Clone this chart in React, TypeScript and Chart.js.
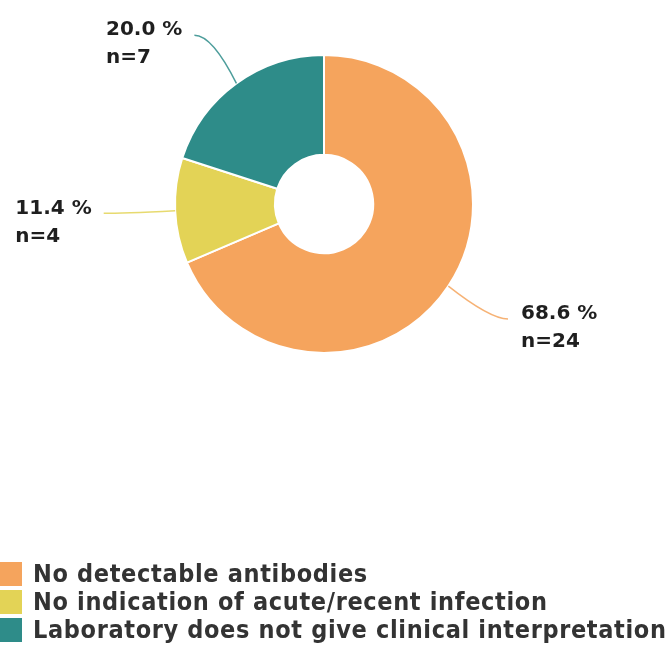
import React, { useEffect, useRef } from "react";
import { Chart, registerables } from "chart.js";

Chart.register(...registerables);

const categories = [
  "No detectable antibodies",
  "No indication of acute/recent infection",
  "Laboratory does not give clinical interpretation",
];
const counts = [24, 4, 7];
const percentLabels = ["68.6 %", "11.4 %", "20.0 %"];
const colors = ["#F5A45D", "#E3D356", "#2E8C89"];

const FONT = "'DejaVu Sans', sans-serif";
const LEGEND_FONT = "'DejaVu Sans Condensed', 'DejaVu Sans', sans-serif";

const labelPlugin = {
  id: "leaderLabels",
  afterDatasetsDraw(chart: any) {
    const ctx = chart.ctx;
    const meta = chart.getDatasetMeta(0);
    meta.data.forEach((arc: any, i: number) => {
      const { x, y, startAngle, endAngle, outerRadius } = arc.getProps(
        ["x", "y", "startAngle", "endAngle", "outerRadius"],
        true
      );
      const mid = (startAngle + endAngle) / 2;
      const c = Math.cos(mid);
      const s = Math.sin(mid);
      const p0x = x + c * outerRadius;
      const p0y = y + s * outerRadius;
      const p2x = x + c * outerRadius * 1.48;
      const p2y = y + s * outerRadius * 1.4;
      const right = c >= 0;
      const cx = p2x + (right ? -18 : 18);
      const cy = p2y;
      ctx.save();
      ctx.strokeStyle = colors[i];
      ctx.globalAlpha = 0.85;
      ctx.lineWidth = 1.5;
      ctx.beginPath();
      ctx.moveTo(p0x, p0y);
      ctx.quadraticCurveTo(cx, cy, p2x, p2y);
      ctx.stroke();
      ctx.globalAlpha = 1;
      ctx.fillStyle = "#1f1f1f";
      ctx.font = `bold 20px ${FONT}`;
      ctx.textBaseline = "middle";
      const tx = p2x + (right ? 13 : -12);
      const lines = [percentLabels[i], "n=" + counts[i]];
      const w = Math.max(...lines.map((l) => ctx.measureText(l).width));
      ctx.textAlign = "left";
      const lx = right ? tx : tx - w;
      ctx.fillText(lines[0], lx, p2y - 5);
      ctx.fillText(lines[1], lx, p2y + 23);
      ctx.restore();
    });
  },
};

const legendPlugin = {
  id: "customLegend",
  afterDraw(chart: any) {
    const ctx = chart.ctx;
    ctx.save();
    categories.forEach((cat, i) => {
      const cy = 574 + i * 28;
      ctx.fillStyle = colors[i];
      ctx.fillRect(0, cy - 12, 22, 24);
      ctx.fillStyle = "#333333";
      ctx.font = `bold 25px ${LEGEND_FONT}`;
      (ctx as any).letterSpacing = "0.65px";
      ctx.textBaseline = "middle";
      ctx.textAlign = "left";
      ctx.fillText(cat, 33, cy + 1);
    });
    ctx.restore();
  },
};

export default function App() {
  const ref = useRef<HTMLCanvasElement>(null);
  useEffect(() => {
    if (!ref.current) return;
    const chart = new Chart(ref.current, {
      type: "doughnut",
      data: {
        labels: categories,
        datasets: [
          {
            data: counts,
            backgroundColor: colors,
            borderColor: "#ffffff",
            borderWidth: 2,
          },
        ],
      },
      options: {
        responsive: false,
        animation: false,
        cutout: "33%",
        layout: { padding: { left: 174, top: 54, right: 195, bottom: 292 } },
        plugins: {
          legend: { display: false },
          tooltip: { enabled: false },
        },
      },
      plugins: [labelPlugin, legendPlugin],
    });
    return () => chart.destroy();
  }, []);
  return (
    <div style={{ position: "absolute", left: 0, top: 0, width: 669, height: 646, background: "#fff" }}>
      <canvas ref={ref} width={669} height={646} />
    </div>
  );
}
